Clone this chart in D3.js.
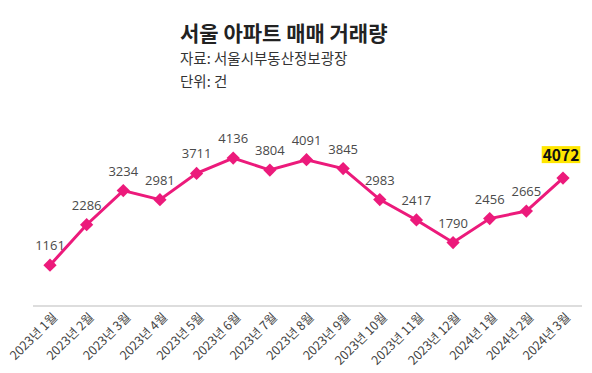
<!DOCTYPE html>
<html>
<head>
<meta charset="utf-8">
<script src="https://cdn.jsdelivr.net/npm/d3@7"></script>
<style>
  body { margin: 0; background: #fff; }
  svg { font-family: "Noto Sans CJK KR", "Noto Sans", sans-serif; }
</style>
</head>
<body>
<svg id="chart"></svg>
<script>
// Chart data
const months = [
  "2023년 1월", "2023년 2월", "2023년 3월", "2023년 4월", "2023년 5월",
  "2023년 6월", "2023년 7월", "2023년 8월", "2023년 9월", "2023년 10월",
  "2023년 11월", "2023년 12월", "2024년 1월", "2024년 2월", "2024년 3월"
];
// plotted values (last point sits lower in the source than its label says)
const values = [1161, 2286, 3234, 2981, 3711, 4136, 3804, 4091, 3845, 2983, 2417, 1790, 2456, 2665, 3580];
const valueLabels = ["1161", "2286", "3234", "2981", "3711", "4136", "3804", "4091", "3845", "2983", "2417", "1790", "2456", "2665", "4072"];

const W = 592, H = 373;
const pink = "#ec1a7b";

const svg = d3.select("#chart").attr("width", W).attr("height", H);

// Titles
svg.append("text").attr("x", 180).attr("y", 41)
  .attr("font-size", 21).attr("font-weight", "bold").attr("fill", "#222")
  .text("서울 아파트 매매 거래량");
svg.append("text").attr("x", 180).attr("y", 64)
  .attr("font-size", 14.5).attr("fill", "#333")
  .text("자료: 서울시부동산정보광장");
svg.append("text").attr("x", 180).attr("y", 87)
  .attr("font-size", 14.5).attr("fill", "#333")
  .text("단위: 건");

// Scales
const x = d3.scalePoint().domain(months).range([50, 563]);
const y = d3.scaleLinear().domain([0, 4500]).range([307, 145]);

// Baseline
svg.append("line")
  .attr("x1", 33).attr("x2", 582)
  .attr("y1", 306).attr("y2", 306)
  .attr("stroke", "#bbb").attr("stroke-width", 1);

// X labels
svg.append("g").selectAll("text")
  .data(months)
  .join("text")
  .attr("transform", d => `translate(${x(d) + 5},${315}) rotate(-45)`)
  .attr("text-anchor", "end")
  .attr("dy", "0.35em")
  .attr("font-size", 12.5)
  .attr("fill", "#444")
  .text(d => d);

const pts = months.map((m, i) => ({ m, v: values[i], label: valueLabels[i], i }));

// Line
svg.append("path")
  .datum(pts)
  .attr("fill", "none")
  .attr("stroke", pink)
  .attr("stroke-width", 3)
  .attr("d", d3.line().x(d => x(d.m)).y(d => y(d.v)));

// Markers
svg.append("g").selectAll("path")
  .data(pts)
  .join("path")
  .attr("d", d3.symbol().type(d3.symbolSquare).size(88)())
  .attr("transform", d => `translate(${x(d.m)},${y(d.v)}) rotate(45)`)
  .attr("fill", pink);

// Value labels
const last = pts.length - 1;
svg.append("g").selectAll("text")
  .data(pts.filter(d => d.i !== last))
  .join("text")
  .attr("x", d => x(d.m))
  .attr("y", d => y(d.v) - 15)
  .attr("text-anchor", "middle")
  .attr("font-family", "'Open Sans', 'Noto Sans', sans-serif")
  .attr("font-size", 13)
  .attr("fill", "#4a4a4a")
  .text(d => d.label);

// Highlighted last label
const lp = pts[last];
const hl = svg.append("g");
const hlText = hl.append("text")
  .attr("x", x(lp.m) - 2)
  .attr("y", y(lp.v) - 17)
  .attr("text-anchor", "middle")
  .attr("font-size", 15.5)
  .attr("font-weight", "bold")
  .attr("fill", "#111")
  .text(lp.label);
const bb = hlText.node().getBBox();
hl.insert("rect", "text")
  .attr("x", bb.x - 1).attr("y", bb.y + 3)
  .attr("width", bb.width + 2).attr("height", bb.height - 5)
  .attr("fill", "#ffe600");
</script>
</body>
</html>
